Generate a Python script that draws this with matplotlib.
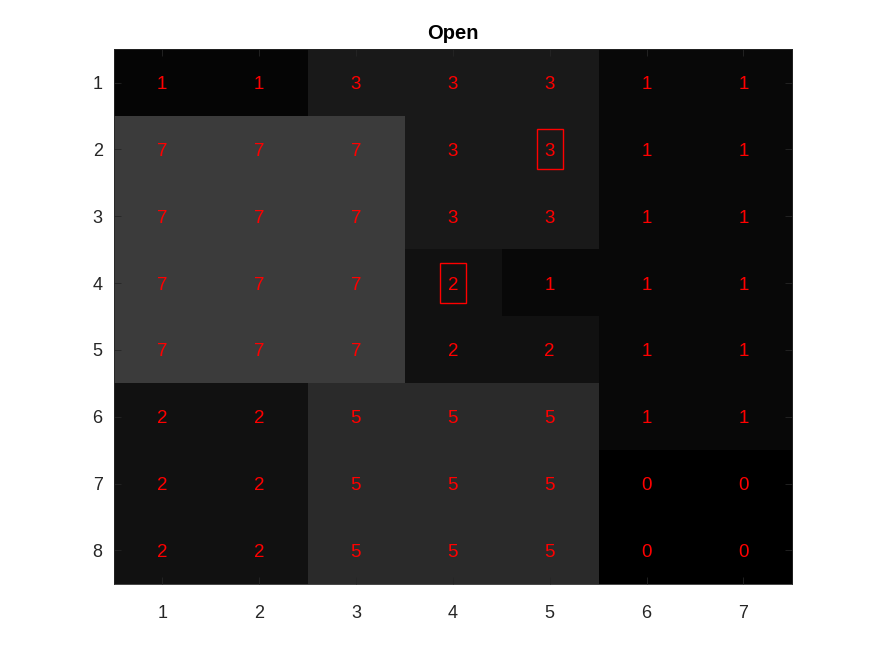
import numpy as np
import matplotlib
matplotlib.use("Agg")
import matplotlib.pyplot as plt
from matplotlib.patches import Rectangle

plt.rcParams['font.family'] = ['Liberation Sans', 'DejaVu Sans']

title = "Open"
x_labels = ["1", "2", "3", "4", "5", "6", "7"]
y_labels = ["1", "2", "3", "4", "5", "6", "7", "8"]

# underlying cell values (shading)
values = np.array([
    [0.6, 0.6, 3, 3, 3, 1, 1],
    [7, 7, 7, 3, 3, 1, 1],
    [7, 7, 7, 3, 3, 1, 1],
    [7, 7, 7, 2, 1, 1, 1],
    [7, 7, 7, 2, 2, 1, 1],
    [2, 2, 5, 5, 5, 1, 1],
    [2, 2, 5, 5, 5, 0, 0],
    [2, 2, 5, 5, 5, 0, 0],
])
# highlighted cells (column, row), 1-based
highlights_col = [5, 4]
highlights_row = [2, 4]

fig = plt.figure(figsize=(8.75, 6.56), dpi=100)
ax = fig.add_axes([0.13, 0.11, 0.775, 0.815])
nrows, ncols = values.shape
ax.imshow(values, cmap='gray', vmin=0, vmax=30, aspect='auto',
          extent=(0.5, ncols + 0.5, nrows + 0.5, 0.5), interpolation='nearest')

for r in range(nrows):
    for c in range(ncols):
        ax.text(c + 1, r + 1, f"{int(round(values[r, c]))}", color='red',
                ha='center', va='center_baseline', fontsize=13.5)

for cx, cy in zip(highlights_col, highlights_row):
    ax.add_patch(Rectangle((cx - 0.135, cy - 0.3), 0.27, 0.6, fill=False,
                           edgecolor='red', linewidth=1.0))

ax.set_xlim(0.5, ncols + 0.5)
ax.set_ylim(nrows + 0.5, 0.5)
ax.set_xticks(range(1, ncols + 1))
ax.set_xticklabels(x_labels)
ax.set_yticks(range(1, nrows + 1))
ax.set_yticklabels(y_labels, va='center_baseline')
ax.tick_params(direction='in', length=5, width=0.6, colors='#262626',
               labelsize=13, top=True, right=True)
ax.tick_params(axis='x', pad=15)
ax.tick_params(axis='y', pad=8)
for s in ax.spines.values():
    s.set_color('#262626')
    s.set_linewidth(0.6)
ax.set_title(title, fontsize=14.5, fontweight='bold', pad=7.5)

fig.savefig("out.png", dpi=100, facecolor='white')
